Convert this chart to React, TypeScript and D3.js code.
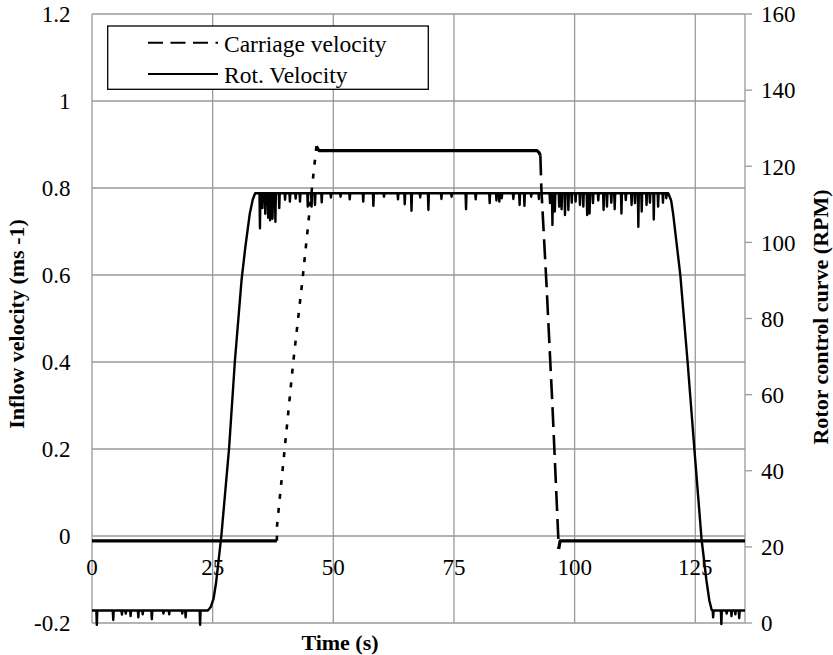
import React from 'react';
import * as d3 from 'd3';

const W = 833;
const H = 655;
const PLOT = { left: 92, right: 745, top: 14, bottom: 623 };
const X_MAX = 135.3;

// axis ticks
const xTicks = [0, 25, 50, 75, 100, 125];
const xTickLabels = ['0', '25', '50', '75', '100', '125'];
const leftTicks = [-0.2, 0, 0.2, 0.4, 0.6, 0.8, 1, 1.2];
const leftTickLabels = ['-0.2', '0', '0.2', '0.4', '0.6', '0.8', '1', '1.2'];
const rightTicks = [0, 20, 40, 60, 80, 100, 120, 140, 160];
const rightTickLabels = ['0', '20', '40', '60', '80', '100', '120', '140', '160'];

// Carriage velocity (m/s, left axis) [time s, value]
const carriageLow1: [number, number][] = [[0, -0.011], [38.3, -0.011]];
const carriageRise: [number, number][] = [
  [38.3, -0.011], [38.35, 0.025], [40.0, 0.209], [41.7, 0.4], [43.6, 0.588], [45.2, 0.76], [46.5, 0.896],
];
const carriageHigh: [number, number][] = [
  [46.5, 0.896], [47.0, 0.886], [92.2, 0.886], [92.6, 0.882], [92.9, 0.875],
];
const carriageFall: [number, number][] = [
  [92.9, 0.875], [93.1, 0.8], [94.2, 0.572], [95.4, 0.3], [96.6, 0.0], [96.7, -0.03],
];
const carriageLow2: [number, number][] = [[96.7, -0.03], [97.0, -0.011], [X_MAX, -0.011]];

// Rotor velocity (RPM, right axis)
const rotLowLevel = 3.3;
const rotHighLevel = 112.9;
const rotRampUp: [number, number][] = [
  [24.0, 3.3], [24.6, 4.2], [25.2, 6.5], [25.7, 10.5], [26.8, 22.9], [28.4, 45.9], [29.6, 68.7],
  [31.0, 90.3], [31.8, 99], [32.7, 107.6], [33.3, 111.2], [33.8, 112.9],
];
const rotRampDown: [number, number][] = [
  [119.4, 112.9], [120.0, 111], [120.4, 107.6], [121.9, 91.4], [123.4, 68.7], [124.8, 45.9],
  [126.3, 22.0], [127.3, 11.3], [127.9, 6], [128.4, 3.4],
];
const rotSpikesLow: [number, number][] = [
  [1.0, -0.5], [4.4, 0.8], [6.2, 2.2], [7.0, 2.5], [8.0, 1.8], [9.6, 1.5], [10.5, 2.3], [12.4, 1.0],
  [14.8, 2.5], [16.0, 2.3], [18.7, 2.5], [19.4, 1.5], [22.4, -0.5],
  [128.7, 1.5], [130.4, -0.3], [131.5, 2.5], [132.5, 1.8], [133.3, 2.3], [134.1, 1.3],
];
const rotSpikesHigh: [number, number][] = [
  [34.8, 103.7], [35.3, 109], [35.9, 107.5], [36.5, 106.5], [36.9, 105.8], [37.4, 106.2], [38.0, 105.4],
  [38.8, 109], [40.0, 111.2], [41.0, 110.7], [42.2, 111.5], [43.1, 110.7], [44.7, 109.4], [45.5, 109.4],
  [46.2, 109.8], [47.6, 110.5], [49.5, 111.8], [51.5, 112], [53.4, 111.3], [56.2, 110.7], [58.3, 109.6],
  [60.5, 112], [63.4, 111.3], [64.8, 110], [66.2, 108.3], [68.0, 111.8], [69.7, 108.5], [72.4, 111.4],
  [74.5, 112], [77.5, 108.7], [79.5, 111.3], [82.4, 110.3], [83.8, 111], [84.4, 110.7], [84.9, 111.6],
  [87.3, 111.4], [88.6, 109.8], [89.6, 109.6], [91.0, 112], [92.6, 111.4],
  [94.9, 110.3], [95.4, 104.6], [95.9, 108.1], [96.8, 109.4], [97.3, 108.7], [98.0, 107.2], [98.7, 108.5],
  [99.4, 110.4], [100.2, 110.7], [101.1, 109.8], [101.8, 109.4], [102.6, 107.2], [103.1, 107.6],
  [103.8, 110.3], [104.9, 111], [106.0, 108.5], [106.7, 109.4], [107.6, 110.4], [108.3, 108.7],
  [109.7, 107.6], [110.6, 111.1], [111.8, 109.8], [112.5, 110.3], [113.2, 104.1], [113.9, 108.1],
  [114.9, 109.8], [115.6, 110.4], [116.4, 106], [117.3, 109.4], [118.3, 110.4], [119.0, 111.6],
];

const legendItems = ['Carriage velocity', 'Rot. Velocity'];

const TXT: React.CSSProperties = { fontFamily: 'Times New Roman, Times, serif' };
const GRID = '#9a9a9a';

function flat(t0: number, t1: number, level: number, spikes: [number, number][]): [number, number][] {
  const pts: [number, number][] = [[t0, level]];
  spikes
    .filter((s) => s[0] > t0 && s[0] < t1)
    .forEach(([t, v]) => {
      pts.push([t - 0.1, level], [t, v], [t + 0.1, level]);
    });
  pts.push([t1, level]);
  return pts;
}

export default function App() {
  const x = d3.scaleLinear().domain([0, X_MAX]).range([PLOT.left, PLOT.right]);
  const yL = d3.scaleLinear().domain([-0.2, 1.2]).range([PLOT.bottom, PLOT.top]);
  const yR = d3.scaleLinear().domain([0, 160]).range([PLOT.bottom, PLOT.top]);

  const lineL = d3.line<[number, number]>().x((d) => x(d[0])).y((d) => yL(d[1]));
  const lineR = d3.line<[number, number]>().x((d) => x(d[0])).y((d) => yR(d[1]));

  const rotPoints: [number, number][] = [
    ...flat(0, rotRampUp[0][0], rotLowLevel, rotSpikesLow),
    ...rotRampUp.slice(1),
    ...flat(rotRampUp[rotRampUp.length - 1][0], rotRampDown[0][0], rotHighLevel, rotSpikesHigh).slice(1),
    ...rotRampDown.slice(1),
    ...flat(rotRampDown[rotRampDown.length - 1][0], X_MAX, rotLowLevel, rotSpikesLow).slice(1),
  ];

  const vGrid = [...xTicks, X_MAX];

  return (
    <svg width={W} height={H} style={{ position: 'absolute', left: 0, top: 0, background: '#fff' }}>
      <rect x={0} y={0} width={W} height={H} fill="#fff" />
      {/* grid */}
      {leftTicks.map((v) => (
        <line key={'h' + v} x1={PLOT.left} x2={PLOT.right} y1={yL(v)} y2={yL(v)} stroke={GRID} strokeWidth={1.3} />
      ))}
      {vGrid.map((t) => (
        <line key={'v' + t} x1={x(t)} x2={x(t)} y1={PLOT.top} y2={PLOT.bottom} stroke={GRID} strokeWidth={1.3} />
      ))}
      {/* right axis ticks */}
      {rightTicks.map((v) => (
        <line key={'rt' + v} x1={PLOT.right} x2={PLOT.right + 7} y1={yR(v)} y2={yR(v)} stroke={GRID} strokeWidth={1.3} />
      ))}
      {/* tick labels */}
      {leftTicks.map((v, i) => (
        <text key={'lt' + v} x={70.5} y={yL(v) + 8.3} textAnchor="end" fontSize={23} style={TXT}>
          {leftTickLabels[i]}
        </text>
      ))}
      {rightTicks.map((v, i) => (
        <text key={'rl' + v} x={761} y={yR(v) + 8.3} textAnchor="start" fontSize={23} style={TXT}>
          {rightTickLabels[i]}
        </text>
      ))}
      {xTicks.map((t, i) => (
        <text key={'xt' + t} x={x(t)} y={575} textAnchor="middle" fontSize={23} style={TXT}>
          {xTickLabels[i]}
        </text>
      ))}
      {/* axis titles */}
      <text x={340} y={650} textAnchor="middle" fontSize={22} fontWeight="bold" style={TXT}>
        Time (s)
      </text>
      <text transform="translate(24,324) rotate(-90)" textAnchor="middle" fontSize={22} fontWeight="bold" style={TXT}>
        Inflow velocity (ms -1)
      </text>
      <text transform="translate(828,317) rotate(-90)" textAnchor="middle" fontSize={22} fontWeight="bold" style={TXT}>
        Rotor control curve (RPM)
      </text>

      {/* carriage velocity */}
      <g fill="none" stroke="#000" strokeLinejoin="round">
        <path d={lineL(carriageLow1) || ''} strokeWidth={3.2} />
        <path d={lineL(carriageRise) || ''} strokeWidth={2.6} strokeDasharray="5 9" />
        <path d={lineL(carriageHigh) || ''} strokeWidth={3.2} />
        <path d={lineL(carriageFall) || ''} strokeWidth={2.6} strokeDasharray="20 8" />
        <path d={lineL(carriageLow2) || ''} strokeWidth={3.2} />
      </g>
      {/* rotor velocity */}
      <path d={lineR(rotPoints) || ''} fill="none" stroke="#000" strokeWidth={2.4} strokeLinejoin="round" />

      {/* legend */}
      <rect x={107.7} y={26} width={320.6} height={63.3} fill="#fff" stroke="#000" strokeWidth={1.3} />
      <line x1={148} x2={218} y1={42.7} y2={42.7} stroke="#000" strokeWidth={2} strokeDasharray="15 7.5" />
      <line x1={148} x2={218} y1={74} y2={74} stroke="#000" strokeWidth={2} />
      <text x={224} y={51.5} fontSize={23.5} style={TXT}>
        {legendItems[0]}
      </text>
      <text x={224} y={82.7} fontSize={23.5} style={TXT}>
        {legendItems[1]}
      </text>
    </svg>
  );
}
